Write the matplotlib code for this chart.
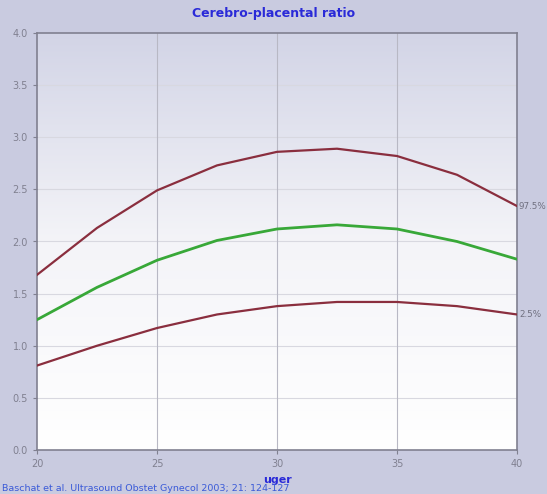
import numpy as np
import matplotlib
matplotlib.use("Agg")
import matplotlib.pyplot as plt
from matplotlib.colors import LinearSegmentedColormap

weeks = [20, 22.5, 25, 27.5, 30, 32.5, 35, 37.5, 40]
p975 = [1.68, 2.13, 2.49, 2.73, 2.86, 2.89, 2.82, 2.64, 2.34]
p50 = [1.25, 1.56, 1.82, 2.01, 2.12, 2.16, 2.12, 2.00, 1.83]
p25 = [0.81, 1.00, 1.17, 1.30, 1.38, 1.42, 1.42, 1.38, 1.30]
xticks = [20, 25, 30, 35, 40]
yticks = [0.0, 0.5, 1.0, 1.5, 2.0, 2.5, 3.0, 3.5, 4.0]

bg = "#c9cbe0"
fig = plt.figure(figsize=(5.47, 4.94), dpi=100, facecolor=bg)
ax = fig.add_axes([37/547, 44/494, 480/547, 417/494])
ax.set_xlim(20, 40)
ax.set_ylim(0, 4)

cmap = LinearSegmentedColormap.from_list("g", ["#ffffff", "#f4f4f8", "#d2d4e6"])
grad = np.linspace(0, 1, 256).reshape(-1, 1)
ax.imshow(grad, extent=[20, 40, 0, 4], aspect="auto", origin="lower", cmap=cmap, zorder=0)

for y in yticks[1:-1]:
    ax.axhline(y, color="#d8d8e0", lw=0.8, zorder=1)
for x in xticks[1:-1]:
    ax.axvline(x, color="#b8b8c4", lw=0.8, zorder=1)

ax.plot(weeks, p975, color="#8a2e3e", lw=1.6, zorder=3)
ax.plot(weeks, p50, color="#38a838", lw=2.0, zorder=3)
ax.plot(weeks, p25, color="#8a2e3e", lw=1.6, zorder=3)

ax.text(40.08, p975[-1], "97.5%", color="#707080", fontsize=6.3, va="center", ha="left", clip_on=False)
ax.text(40.08, p25[-1], "2.5%", color="#707080", fontsize=6.3, va="center", ha="left", clip_on=False)

ax.set_xticks(xticks)
ax.set_yticks(yticks)
ax.set_xticklabels([str(t) for t in xticks])
ax.set_yticklabels([f"{t:.1f}" for t in yticks])
ax.tick_params(colors="#808090", labelcolor="#808090", labelsize=7, length=3, width=0.8)
for s in ax.spines.values():
    s.set_color("#808090")
    s.set_linewidth(1.2)

fig.text(0.5, 1 - 13/494, "Cerebro-placental ratio", color="#2a2ad8", fontsize=9, fontweight="bold", ha="center", va="center")
ax.set_xlabel("uger", color="#2a2ad8", fontsize=8, fontweight="bold", labelpad=4)
fig.text(2/547, 1 - 488/494, "Baschat et al. Ultrasound Obstet Gynecol 2003; 21: 124-127", color="#3a5ad8", fontsize=6.8, ha="left", va="center")

fig.savefig("out.png", dpi=100, facecolor=bg)
